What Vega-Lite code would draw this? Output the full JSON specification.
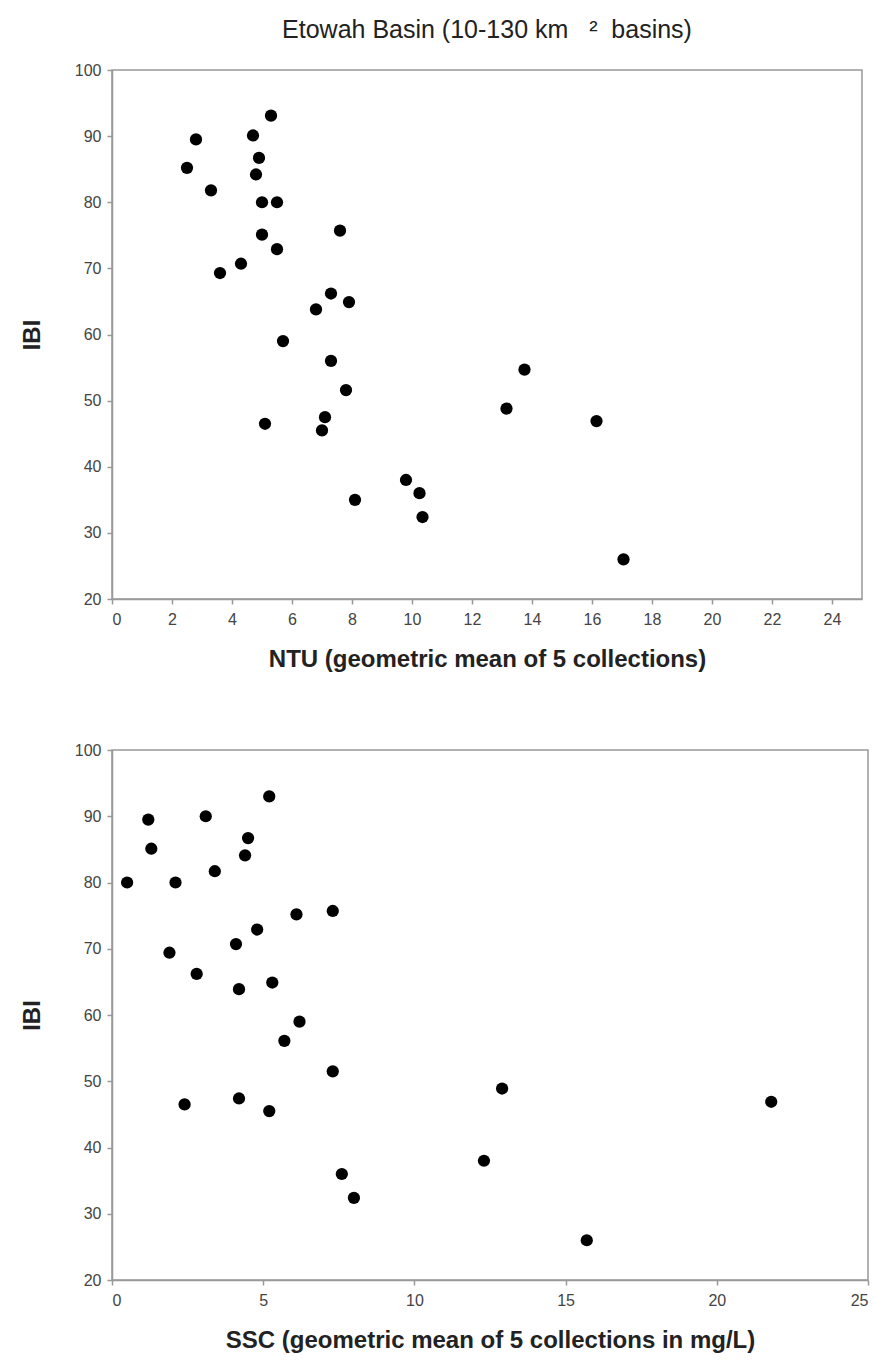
{
  "$schema": "https://vega.github.io/schema/vega-lite/v6.json",
  "background": "white",
  "padding": {"left": 19, "top": 17, "right": 12, "bottom": 8},
  "config": {
    "font": "Liberation Sans",
    "view": {"stroke": "#999", "strokeWidth": 1.5},
    "axis": {"grid": false, "domainColor": "#999", "domainWidth": 1.5, "tickColor": "#999", "tickSize": 5, "tickWidth": 1.5, "labelFont": "Liberation Sans", "labelFontSize": 16, "labelColor": "#444", "titleFont": "Liberation Sans", "titleFontSize": 24, "titleFontWeight": "bold", "titleColor": "#222"},
    "axisX": {"labelPadding": 7, "titlePadding": 20},
    "axisY": {"labelPadding": 6, "titlePadding": 30},
    "concat": {"spacing": 69}
  },
  "datasets": {
    "ntu": [
      {"NTU": 5.3, "IBI": 93.1}, {"NTU": 2.8, "IBI": 89.5}, {"NTU": 4.7, "IBI": 90.1}, {"NTU": 4.9, "IBI": 86.7},
      {"NTU": 2.5, "IBI": 85.2}, {"NTU": 4.8, "IBI": 84.2}, {"NTU": 3.3, "IBI": 81.8}, {"NTU": 5.0, "IBI": 80.0},
      {"NTU": 5.5, "IBI": 80.0}, {"NTU": 7.6, "IBI": 75.7}, {"NTU": 5.0, "IBI": 75.1}, {"NTU": 5.5, "IBI": 72.9},
      {"NTU": 4.3, "IBI": 70.7}, {"NTU": 3.6, "IBI": 69.3}, {"NTU": 7.3, "IBI": 66.2}, {"NTU": 7.9, "IBI": 64.9},
      {"NTU": 6.8, "IBI": 63.8}, {"NTU": 5.7, "IBI": 59.0}, {"NTU": 7.3, "IBI": 56.0}, {"NTU": 7.8, "IBI": 51.6},
      {"NTU": 7.1, "IBI": 47.5}, {"NTU": 7.0, "IBI": 45.5}, {"NTU": 5.1, "IBI": 46.5}, {"NTU": 8.1, "IBI": 35.0},
      {"NTU": 9.8, "IBI": 38.0}, {"NTU": 10.25, "IBI": 36.0}, {"NTU": 10.35, "IBI": 32.4}, {"NTU": 13.75, "IBI": 54.7},
      {"NTU": 13.15, "IBI": 48.8}, {"NTU": 16.15, "IBI": 46.9}, {"NTU": 17.05, "IBI": 26.0}
    ],
    "ssc": [
      {"SSC": 5.2, "IBI": 93.0}, {"SSC": 1.2, "IBI": 89.5}, {"SSC": 3.1, "IBI": 90.0}, {"SSC": 4.5, "IBI": 86.7},
      {"SSC": 1.3, "IBI": 85.1}, {"SSC": 4.4, "IBI": 84.1}, {"SSC": 3.4, "IBI": 81.7}, {"SSC": 0.5, "IBI": 80.0},
      {"SSC": 2.1, "IBI": 80.0}, {"SSC": 7.3, "IBI": 75.7}, {"SSC": 6.1, "IBI": 75.2}, {"SSC": 4.8, "IBI": 72.9},
      {"SSC": 4.1, "IBI": 70.7}, {"SSC": 1.9, "IBI": 69.4}, {"SSC": 2.8, "IBI": 66.2}, {"SSC": 5.3, "IBI": 64.9},
      {"SSC": 4.2, "IBI": 63.9}, {"SSC": 6.2, "IBI": 59.0}, {"SSC": 5.7, "IBI": 56.1}, {"SSC": 7.3, "IBI": 51.5},
      {"SSC": 12.9, "IBI": 48.9}, {"SSC": 2.4, "IBI": 46.5}, {"SSC": 4.2, "IBI": 47.4}, {"SSC": 5.2, "IBI": 45.5},
      {"SSC": 12.3, "IBI": 38.0}, {"SSC": 7.6, "IBI": 36.0}, {"SSC": 8.0, "IBI": 32.4}, {"SSC": 15.7, "IBI": 26.0},
      {"SSC": 21.8, "IBI": 46.9}
    ]
  },
  "vconcat": [
    {
      "title": {"text": "Etowah Basin (10-130 km \u00a0\u00a0² \u00a0basins)", "fontSize": 25, "fontWeight": "normal", "color": "#222", "font": "Liberation Sans", "anchor": "middle", "frame": "group", "offset": 19},
      "width": 750,
      "height": 529,
      "data": {"name": "ntu"},
      "mark": {"type": "circle", "size": 150, "opacity": 1, "color": "black"},
      "encoding": {
        "x": {"field": "NTU", "type": "quantitative", "title": "NTU (geometric mean of 5 collections)", "scale": {"domain": [0, 25], "nice": false, "zero": false}, "axis": {"values": [0, 2, 4, 6, 8, 10, 12, 14, 16, 18, 20, 22, 24]}},
        "y": {"field": "IBI", "type": "quantitative", "title": "IBI", "scale": {"domain": [20, 100], "nice": false, "zero": false}, "axis": {"values": [20, 30, 40, 50, 60, 70, 80, 90, 100]}}
      }
    },
    {
      "width": 756,
      "height": 530,
      "data": {"name": "ssc"},
      "mark": {"type": "circle", "size": 150, "opacity": 1, "color": "black"},
      "encoding": {
        "x": {"field": "SSC", "type": "quantitative", "title": "SSC (geometric mean of 5 collections in mg/L)", "scale": {"domain": [0, 25], "nice": false, "zero": false}, "axis": {"values": [0, 5, 10, 15, 20, 25]}},
        "y": {"field": "IBI", "type": "quantitative", "title": "IBI", "scale": {"domain": [20, 100], "nice": false, "zero": false}, "axis": {"values": [20, 30, 40, 50, 60, 70, 80, 90, 100]}}
      }
    }
  ]
}
